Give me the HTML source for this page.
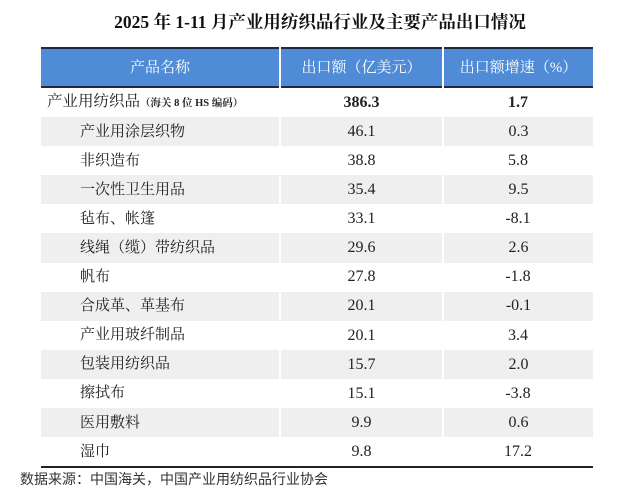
<!DOCTYPE html>
<html><head><meta charset="utf-8"><style>
body{margin:0;width:640px;height:498px;background:#fff;position:relative;overflow:hidden;font-family:"Liberation Serif","Noto Serif CJK SC",serif;color:#222}
.title{position:absolute;top:9px;left:0;width:640px;text-align:center;font-weight:bold;font-size:17.5px;color:#111}
table{position:absolute;left:41px;top:47px;width:552px;border-collapse:collapse;font-size:15px;table-layout:fixed}
th{background:#4f8bd6;color:#fff;font-weight:normal;height:37px;padding:0;border-left:2px solid #fff;font-size:15px;line-height:16px}
th:first-child{border-left:none}
thead tr{border-top:2px solid #1a2a3a;border-bottom:2px solid #1a2a3a}
td{height:29.1px;padding:0;text-align:center;line-height:18px;vertical-align:middle;white-space:nowrap}
td span.n{display:inline-block;vertical-align:middle;font-size:16px}
td:first-child{text-align:left;padding-left:39px}
tr.g td{background:#efefef}
tr.g td+td{border-left:2px solid #fff}
tbody tr:last-child{border-bottom:2px solid #222}
.src{position:absolute;left:20px;top:471px;line-height:16px;font-family:"Liberation Sans","Noto Sans CJK SC",sans-serif;font-size:14px;color:#333}
</style></head><body>
<div class="title">2025 年 1-11 月产业用纺织品行业及主要产品出口情况</div>
<table>
<colgroup><col style="width:239px"><col style="width:163px"><col style="width:150px"></colgroup>
<thead><tr><th>产品名称</th><th>出口额（亿美元）</th><th>出口额增速（%）</th></tr></thead>
<tbody>
<tr><td style="padding-left:6px;height:29px"><span style="font-size:15.5px">产业用纺织品</span><span style="font-size:10.5px;font-weight:bold">（海关 8 位 HS 编码）</span></td><td><b class="n" style="font-size:16px">386.3</b></td><td><b style="font-size:16px">1.7</b></td></tr>
<tr class="g"><td>产业用涂层织物</td><td><span class="n">46.1</span></td><td><span class="n">0.3</span></td></tr>
<tr><td>非织造布</td><td><span class="n">38.8</span></td><td><span class="n">5.8</span></td></tr>
<tr class="g"><td>一次性卫生用品</td><td><span class="n">35.4</span></td><td><span class="n">9.5</span></td></tr>
<tr><td>毡布、帐篷</td><td><span class="n">33.1</span></td><td><span class="n">-8.1</span></td></tr>
<tr class="g"><td>线绳（缆）带纺织品</td><td><span class="n">29.6</span></td><td><span class="n">2.6</span></td></tr>
<tr><td>帆布</td><td><span class="n">27.8</span></td><td><span class="n">-1.8</span></td></tr>
<tr class="g"><td>合成革、革基布</td><td><span class="n">20.1</span></td><td><span class="n">-0.1</span></td></tr>
<tr><td>产业用玻纤制品</td><td><span class="n">20.1</span></td><td><span class="n">3.4</span></td></tr>
<tr class="g"><td>包装用纺织品</td><td><span class="n">15.7</span></td><td><span class="n">2.0</span></td></tr>
<tr><td>擦拭布</td><td><span class="n">15.1</span></td><td><span class="n">-3.8</span></td></tr>
<tr class="g"><td>医用敷料</td><td><span class="n">9.9</span></td><td><span class="n">0.6</span></td></tr>
<tr><td>湿巾</td><td><span class="n">9.8</span></td><td><span class="n">17.2</span></td></tr>
</tbody></table>
<div class="src">数据来源：中国海关，中国产业用纺织品行业协会</div>
</body></html>
